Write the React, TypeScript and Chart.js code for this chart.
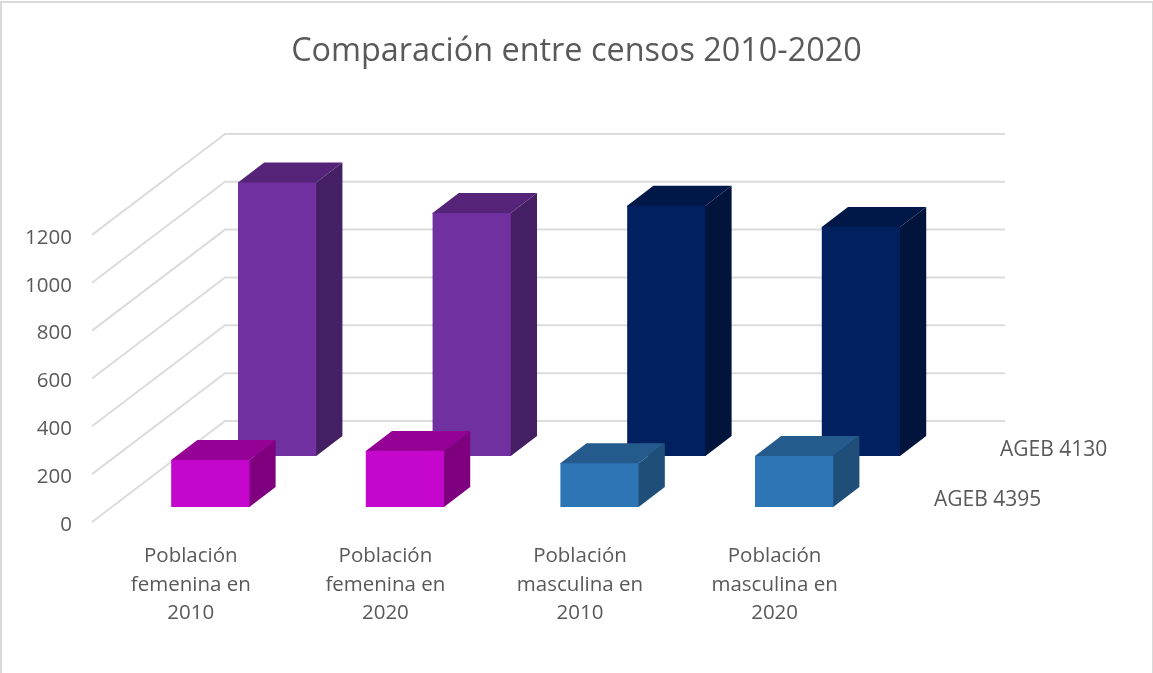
import React, { useEffect, useRef } from "react";
import { Chart, registerables } from "chart.js";

Chart.register(...registerables);

const titleText = "Comparación entre censos 2010-2020";
const categories = [
  ["Población", "femenina en", "2010"],
  ["Población", "femenina en", "2020"],
  ["Población", "masculina en", "2010"],
  ["Población", "masculina en", "2020"],
];
const ageb4395 = [196, 234, 183, 213];
const ageb4130 = [1143, 1016, 1046, 957];
const front4395 = ["#c506cc", "#c506cc", "#2e75b6", "#2e75b6"];
const top4395 = ["#950095", "#950095", "#255a8c", "#255a8c"];
const side4395 = ["#7f007f", "#7f007f", "#1f4e79", "#1f4e79"];
const front4130 = ["#7030a0", "#7030a0", "#002060", "#002060"];
const top4130 = ["#552479", "#552479", "#001848", "#001848"];
const side4130 = ["#451f63", "#451f63", "#00143c", "#00143c"];

const FONT = "'Open Sans', sans-serif";
const TEXT = "#595959";
const GRID = "#dcdcdc";
const WALL = { dx: 133, dy: -101 };
const BAR_DEPTH = { dx: 26.2, dy: -20 };
const ROWS = [
  { dx: 21, dy: -15, top: top4395, side: side4395, labelX: 934, labelY: 500 },
  { dx: 87.8, dy: -66, top: top4130, side: side4130, labelX: 1000, labelY: 450 },
];

const threeD = {
  id: "threeD",
  beforeDraw(chart: any) {
    const { ctx, width, height } = chart;
    ctx.save();
    ctx.fillStyle = "#ffffff";
    ctx.fillRect(0, 0, width, height);
    ctx.strokeStyle = "#d9d9d9";
    ctx.lineWidth = 2;
    ctx.strokeRect(1, 2, width - 1, height + 4);
    ctx.restore();
  },
  beforeDatasetsDraw(chart: any) {
    const { ctx, scales, chartArea } = chart;
    const y = scales.y;
    ctx.save();
    ctx.strokeStyle = GRID;
    ctx.lineWidth = 2;
    y.ticks.forEach((t: any) => {
      const p = y.getPixelForValue(t.value);
      ctx.beginPath();
      ctx.moveTo(chartArea.left, p);
      ctx.lineTo(chartArea.left + WALL.dx, p + WALL.dy);
      ctx.lineTo(1005, p + WALL.dy);
      ctx.stroke();
    });
    ctx.restore();
  },
  beforeDatasetDraw(chart: any, args: any) {
    const { ctx } = chart;
    const row = ROWS[args.index];
    ctx.save();
    ctx.translate(row.dx, row.dy);
    args.meta.data.forEach((bar: any, i: number) => {
      const w = bar.width / 2;
      const l = bar.x - w;
      const r = bar.x + w;
      const t = bar.y;
      const b = bar.base;
      const { dx, dy } = BAR_DEPTH;
      ctx.fillStyle = row.side[i];
      ctx.beginPath();
      ctx.moveTo(r - 1, t);
      ctx.lineTo(r, t);
      ctx.lineTo(r + dx, t + dy);
      ctx.lineTo(r + dx, b + dy);
      ctx.lineTo(r, b);
      ctx.lineTo(r - 1, b);
      ctx.closePath();
      ctx.fill();
      ctx.fillStyle = row.top[i];
      ctx.beginPath();
      ctx.moveTo(l, t + 1);
      ctx.lineTo(l, t);
      ctx.lineTo(l + dx, t + dy);
      ctx.lineTo(r + dx, t + dy);
      ctx.lineTo(r, t);
      ctx.lineTo(r, t + 1);
      ctx.closePath();
      ctx.fill();
    });
  },
  afterDatasetDraw(chart: any) {
    chart.ctx.restore();
  },
  afterDraw(chart: any) {
    const { ctx } = chart;
    ctx.save();
    ctx.font = `21px ${FONT}`;
    ctx.fillStyle = TEXT;
    ctx.textAlign = "left";
    ctx.textBaseline = "middle";
    chart.data.datasets.forEach((ds: any, i: number) => {
      ctx.fillText(ds.label, ROWS[i].labelX, ROWS[i].labelY);
    });
    ctx.restore();
  },
};

export default function App() {
  const ref = useRef<HTMLCanvasElement>(null);
  useEffect(() => {
    document.body.style.margin = "0";
    const chart = new Chart(ref.current as HTMLCanvasElement, {
      type: "bar",
      data: {
        labels: categories as any,
        datasets: [
          { label: "AGEB 4395", data: ageb4395, backgroundColor: front4395, grouped: false, clip: false } as any,
          { label: "AGEB 4130", data: ageb4130, backgroundColor: front4130, grouped: false, clip: false } as any,
        ],
      },
      options: {
        responsive: false,
        animation: false,
        layout: { padding: 0 },
        datasets: { bar: { barPercentage: 1, categoryPercentage: 0.402 } },
        plugins: {
          legend: { display: false },
          tooltip: { enabled: false },
          title: {
            display: true,
            text: titleText,
            color: TEXT,
            font: { family: FONT, size: 32.4, weight: "normal", lineHeight: 1.2 },
            padding: { top: 32, bottom: 164 },
          },
        },
        scales: {
          x: {
            grid: { display: false, drawTicks: false },
            border: { display: false },
            afterFit: (s: any) => {
              s.height = 151;
            },
            ticks: {
              autoSkip: false,
              maxRotation: 0,
              minRotation: 0,
              padding: 20,
              labelOffset: 1.5,
              color: TEXT,
              font: { family: FONT, size: 20.5, lineHeight: 1.39 },
            },
          },
          y: {
            min: 0,
            max: 1200,
            grid: { display: false, drawTicks: false },
            border: { display: false },
            afterFit: (s: any) => {
              s.width = 92;
            },
            ticks: {
              stepSize: 200,
              padding: 20,
              labelOffset: 3,
              format: { useGrouping: false },
              color: TEXT,
              font: { family: FONT, size: 20.5 },
            },
          },
          gutter: {
            type: "linear",
            position: "right",
            grid: { display: false, drawTicks: false },
            border: { display: false },
            ticks: { display: false },
            afterFit: (s: any) => {
              s.width = 282.6;
            },
          },
        },
      },
      plugins: [threeD],
    } as any);
    return () => chart.destroy();
  }, []);
  return <canvas ref={ref} width={1153} height={673} style={{ display: "block" }} />;
}
